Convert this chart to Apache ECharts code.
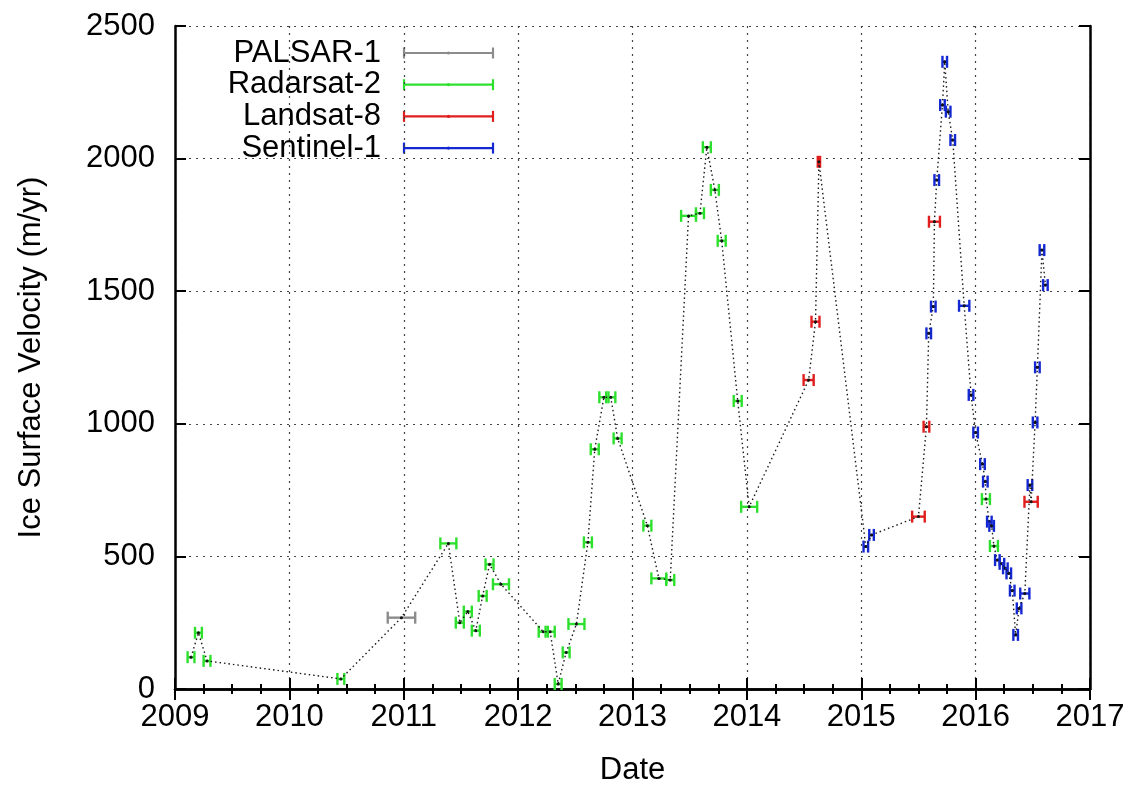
<!DOCTYPE html>
<html>
<head>
<meta charset="utf-8">
<script src="https://cdn.jsdelivr.net/npm/echarts@6/dist/echarts.min.js"></script>
<style>
  html, body { margin: 0; padding: 0; background: #fff; }
  #chart { width: 1128px; height: 787px; }
</style>
</head>
<body>
<div id="chart"></div>
<script>
// dates in decimal years, velocity in m/yr, half width of the bar in years
var palsarDates = [2010.98]
var palsarVel = [269]
var palsarHalf = [0.12]

var radarsatDates = [2009.14, 2009.205, 2009.28, 2010.45, 2011.39, 2011.49, 2011.56, 2011.63, 2011.69, 2011.75,
  2011.85, 2012.22, 2012.28, 2012.35, 2012.42, 2012.51, 2012.61, 2012.67, 2012.75, 2012.81,
  2012.87, 2013.13, 2013.23, 2013.33, 2013.49, 2013.59, 2013.65, 2013.72, 2013.78, 2013.92,
  2014.02, 2016.09, 2016.16]
var radarsatVel = [120, 212, 106, 38, 549, 250, 292, 220, 351, 470,
  395, 216, 216, 19, 138, 245, 553, 904, 1100, 1100,
  945, 616, 417, 411, 1784, 1794, 2043, 1882, 1690, 1086,
  687, 716, 539]
var radarsatHalf = [0.03, 0.03, 0.03, 0.03, 0.07, 0.035, 0.035, 0.035, 0.035, 0.035,
  0.07, 0.04, 0.04, 0.03, 0.03, 0.07, 0.035, 0.035, 0.04, 0.04,
  0.035, 0.035, 0.065, 0.035, 0.065, 0.035, 0.035, 0.035, 0.035, 0.035,
  0.07, 0.035, 0.035]

var landsatDates = [2014.54, 2014.60, 2014.63, 2015.50, 2015.57, 2015.64, 2016.485]
var landsatVel = [1165, 1385, 1988, 650, 989, 1762, 706]
var landsatHalf = [0.044, 0.035, 0.01, 0.055, 0.025, 0.048, 0.058]

var sentinelDates = [2015.04, 2015.09, 2015.59, 2015.63, 2015.66, 2015.71, 2015.73, 2015.76, 2015.80, 2015.90,
  2015.96, 2016.00, 2016.06, 2016.085, 2016.12, 2016.14, 2016.19, 2016.23, 2016.26, 2016.29,
  2016.32, 2016.35, 2016.38, 2016.43, 2016.475, 2016.52, 2016.54, 2016.58, 2016.61]
var sentinelVel = [537, 581, 1341, 1442, 1919, 2202, 2365, 2177, 2070, 1445,
  1109, 967, 848, 782, 631, 615, 486, 472, 455, 436,
  371, 204, 304, 360, 769, 1005, 1213, 1655, 1523]
var sentinelHalf = [0.02, 0.02, 0.02, 0.02, 0.02, 0.02, 0.02, 0.02, 0.02, 0.045,
  0.02, 0.02, 0.02, 0.02, 0.02, 0.02, 0.02, 0.02, 0.02, 0.02,
  0.02, 0.02, 0.02, 0.04, 0.02, 0.02, 0.02, 0.02, 0.02]

var yearTicks = [2009, 2010, 2011, 2012, 2013, 2014, 2015, 2016, 2017]

var names = ['PALSAR-1', 'Radarsat-2', 'Landsat-8', 'Sentinel-1']
var colors = ['#8c8c8c', '#2ee02e', '#e01e1e', '#1428d2']
var FONT = 'Liberation Sans'
var FS = 31

function rows(d, v, h) {
  return d.map(function (x, i) { return [x, v[i], h[i]] })
}
var sets = [
  rows(palsarDates, palsarVel, palsarHalf),
  rows(radarsatDates, radarsatVel, radarsatHalf),
  rows(landsatDates, landsatVel, landsatHalf),
  rows(sentinelDates, sentinelVel, sentinelHalf)
]

// one dotted line through every point in time order
var all = []
sets.forEach(function (s) { s.forEach(function (r) { all.push([r[0], r[1]]) }) })
all.sort(function (a, b) { return a[0] - b[0] })

function errBar(params, api) {
  var x = api.value(0), y = api.value(1), e = api.value(2)
  var a = api.coord([x - e, y]), b = api.coord([x + e, y]), c = api.coord([x, y])
  var col = api.visual('color')
  var st = { stroke: col, lineWidth: 2.4 }
  return {
    type: 'group',
    children: [
      { type: 'line', shape: { x1: a[0], y1: a[1], x2: b[0], y2: b[1] }, style: st },
      { type: 'line', shape: { x1: a[0], y1: a[1] - 6, x2: a[0], y2: a[1] + 6 }, style: st },
      { type: 'line', shape: { x1: b[0], y1: b[1] - 6, x2: b[0], y2: b[1] + 6 }, style: st },
      { type: 'circle', shape: { cx: c[0], cy: c[1], r: 1.5 }, style: { fill: '#111' } }
    ]
  }
}

var series = sets.map(function (s, i) {
  return {
    name: names[i],
    type: 'custom',
    renderItem: errBar,
    data: s,
    encode: { x: 0, y: 1 },
    itemStyle: { color: colors[i] },
    z: 3
  }
})
series.unshift({
  type: 'line',
  data: all,
  showSymbol: false,
  symbol: 'none',
  lineStyle: { color: '#1a1a1a', width: 1.4, type: [1.5, 3] },
  z: 4,
  silent: true
})

// legend drawn like gnuplot's: text right-aligned, error bar sample
var legendGraphics = []
names.forEach(function (n, i) {
  var cy = 53 + i * 31.7
  var x0 = 404, x1 = 493
  legendGraphics.push({
    type: 'text', x: 381, y: cy,
    style: { text: n, font: FS + 'px "' + FONT + '"', fill: '#000', textAlign: 'right', textVerticalAlign: 'middle' }
  })
  var st = { stroke: colors[i], lineWidth: 2.2 }
  legendGraphics.push({ type: 'line', shape: { x1: x0, y1: cy, x2: x1, y2: cy }, style: st })
  legendGraphics.push({ type: 'line', shape: { x1: x0, y1: cy - 5.5, x2: x0, y2: cy + 5.5 }, style: st })
  legendGraphics.push({ type: 'line', shape: { x1: x1, y1: cy - 5.5, x2: x1, y2: cy + 5.5 }, style: st })
  legendGraphics.push({ type: 'circle', shape: { cx: (x0 + x1) / 2, cy: cy, r: 1.6 }, style: { fill: colors[i] } })
})

var chart = echarts.init(document.getElementById('chart'), null, { renderer: 'canvas' })

var gridDots = { color: '#444', width: 1.2, type: [2, 5] }
var axisLineStyle = { color: '#000', width: 2.5 }
var plain = function (v) { return String(v) }

var option = {
  backgroundColor: '#fff',
  animation: false,
  grid: { left: 175, right: 38, top: 26, bottom: 98, outerBoundsMode: 'none', containLabel: false },
  xAxis: [{
    type: 'value', min: yearTicks[0], max: yearTicks[yearTicks.length - 1], interval: 1,
    position: 'bottom',
    name: 'Date', nameLocation: 'middle', nameGap: 66,
    nameTextStyle: { fontFamily: FONT, fontSize: FS, color: '#000' },
    axisLine: { lineStyle: axisLineStyle },
    axisTick: { inside: true, length: 11, lineStyle: { color: '#000', width: 2 } },
    minorTick: { show: true, splitNumber: 4, length: 5, lineStyle: { color: '#000', width: 2 } },
    axisLabel: { fontFamily: FONT, fontSize: FS, color: '#000', margin: 13, formatter: plain },
    splitLine: { show: true, lineStyle: gridDots }
  }, {
    type: 'value', min: yearTicks[0], max: yearTicks[yearTicks.length - 1], interval: 1,
    position: 'top',
    axisLine: { lineStyle: axisLineStyle },
    axisTick: { inside: true, length: 11, lineStyle: { color: '#000', width: 2 } },
    minorTick: { show: true, splitNumber: 4, length: 5, lineStyle: { color: '#000', width: 2 } },
    axisLabel: { show: false },
    splitLine: { show: false }
  }],
  yAxis: [{
    type: 'value', min: 0, max: 2500, interval: 500,
    position: 'left',
    name: 'Ice Surface Velocity (m/yr)', nameLocation: 'middle', nameGap: 128,
    nameTextStyle: { fontFamily: FONT, fontSize: FS, color: '#000' },
    axisLine: { show: true, lineStyle: axisLineStyle },
    axisTick: { show: true, inside: true, length: 11, lineStyle: { color: '#000', width: 2 } },
    axisLabel: { fontFamily: FONT, fontSize: FS, color: '#000', margin: 20, formatter: plain },
    splitLine: { show: true, lineStyle: gridDots }
  }, {
    type: 'value', min: 0, max: 2500, interval: 500,
    position: 'right',
    axisLine: { show: true, lineStyle: axisLineStyle },
    axisTick: { show: true, inside: true, length: 11, lineStyle: { color: '#000', width: 2 } },
    axisLabel: { show: false },
    splitLine: { show: false }
  }],
  graphic: legendGraphics,
  series: series
}
chart.setOption(option)
</script>
</body>
</html>
